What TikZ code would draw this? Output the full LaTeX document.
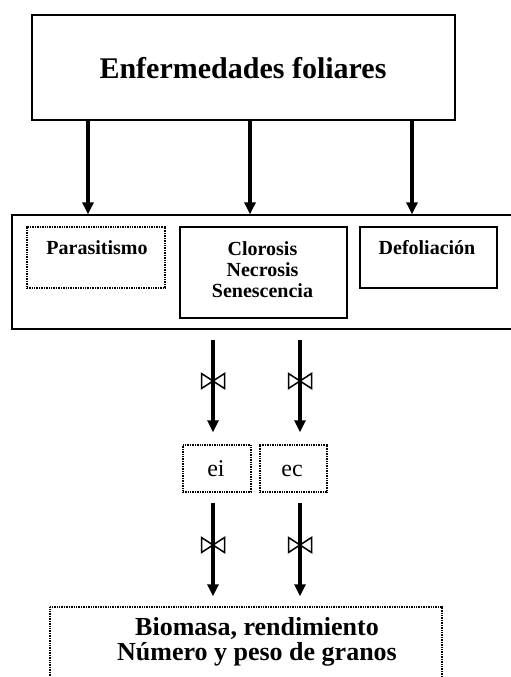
\documentclass[tikz,border=0pt]{standalone}
\usepackage{fontspec}
\setmainfont{Liberation Serif}
\usetikzlibrary{arrows.meta}
\begin{document}
\begin{tikzpicture}[x=1pt,y=-1pt,
  solidbox/.style={draw=black, line width=1.3pt, inner sep=0pt},
  dotbox/.style={draw=black, line width=1.4pt, dash pattern=on 1pt off 0.7pt, inner sep=0pt},
  arr/.style={line width=3.5pt, -{Triangle[width=11pt,length=12pt]}},
  midtxt/.style={font=\fontsize{20}{21}\selectfont\bfseries, inner sep=0pt, anchor=base},
  bottxt/.style={font=\fontsize{26}{25}\selectfont\bfseries, inner sep=0pt, anchor=base},
  smalltxt/.style={font=\fontsize{24}{24}\selectfont, inner sep=0pt, anchor=base},
  bow/.pic={\draw[line width=1.5pt, line join=miter] (-11.5,-7.5) -- (-11.5,7.5) -- (0,0) -- cycle (11.5,-7.5) -- (11.5,7.5) -- (0,0) -- cycle;}
]
\useasboundingbox (0,0) rectangle (511,677);
\clip (0,0) rectangle (511,677);
\fill[white] (0,0) rectangle (511,677);

% top box
\node[solidbox, minimum width=423pt, minimum height=105pt] (top) at (243.5,67.5) {};
\node[font=\fontsize{30}{30}\selectfont\bfseries, inner sep=0pt, anchor=base] (toptxt) at (243,78) {Enfermedades foliares};

% big middle box
\node[solidbox, minimum width=510pt, minimum height=114pt] (big) at (267,272) {};

% inner boxes
\node[dotbox, minimum width=138pt, minimum height=61pt] (par) at (96,257.5) {};
\node[solidbox, minimum width=167pt, minimum height=91pt] (clo) at (263.5,272.5) {};
\node[solidbox, minimum width=137pt, minimum height=61pt] (def) at (428.5,257.5) {};

\node[midtxt] (partxt) at (97,254) {Parasitismo};
\node[midtxt] (clo1) at (262.5,255) {Clorosis};
\node[midtxt] (clo2) at (262.5,276) {Necrosis};
\node[midtxt] (clo3) at (262.5,297) {Senescencia};
\node[midtxt] (deftxt) at (427,254) {Defoliación};

% ei / ec
\node[dotbox, minimum width=68pt, minimum height=47pt] (ei) at (217,468.5) {};
\node[dotbox, minimum width=67pt, minimum height=47pt] (ec) at (293.5,468.5) {};
\node[smalltxt] (eitxt) at (216,476) {ei};
\node[smalltxt] (ectxt) at (292,476) {ec};

% bottom box
\node[dotbox, minimum width=392pt, minimum height=120pt] (res) at (246,667) {};
\node[bottxt] (res1) at (257,635) {Biomasa, rendimiento};
\node[bottxt] (res2) at (257,660) {Número y peso de granos};

% arrow columns
\coordinate (c1) at (88,0);
\coordinate (c2) at (250,0);
\coordinate (c3) at (412,0);
\coordinate (c4) at (213,0);
\coordinate (c5) at (300,0);

\draw[arr] (top.south -| c1) -- (big.north -| c1);
\draw[arr] (top.south -| c2) -- (big.north -| c2);
\draw[arr] (top.south -| c3) -- (big.north -| c3);

\draw[arr, shorten <=10pt, shorten >=12pt] (big.south -| c4) -- (ei.north -| c4);
\draw[arr, shorten <=10pt, shorten >=12pt] (big.south -| c5) -- (ec.north -| c5);
\draw[arr, shorten <=10pt, shorten >=10pt] (ei.south -| c4) -- (res.north -| c4);
\draw[arr, shorten <=10pt, shorten >=10pt] (ec.south -| c5) -- (res.north -| c5);

\pic at (213,381) {bow};
\pic at (300,381) {bow};
\pic at (213,545) {bow};
\pic at (300,545) {bow};
\end{tikzpicture}
\end{document}
